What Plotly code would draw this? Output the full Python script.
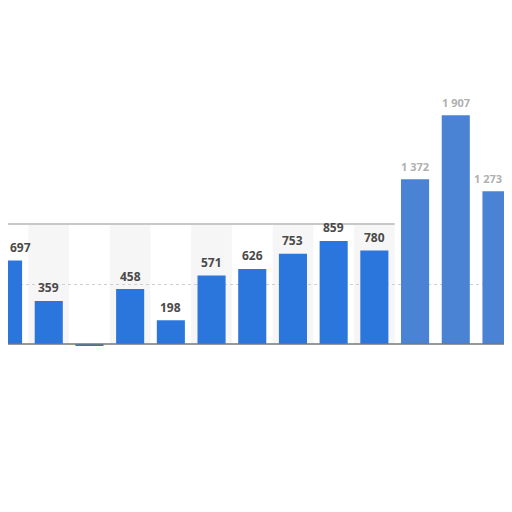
import plotly.graph_objects as go

# values (left to right)
bar_values = [697, 359, -15, 458, 198, 571, 626, 753, 859, 780, 1372, 1907, 1273]
bar_labels = ["697", "359", "", "458", "198", "571", "626", "753", "859", "780", "1 372", "1 907", "1 273"]
blurred = [False] * 10 + [True] * 3

positions = list(range(len(bar_values)))
bar_colors = ["#4a82d4" if b else "#2a76dc" for b in blurred]
label_colors = ["#b0b0b0" if b else "#4a4a4a" for b in blurred]

fig = go.Figure()

# alternating column bands behind the bars, up to the 1000 line
for i in positions:
    if i % 2 == 1 and i < 10:
        fig.add_shape(type="rect", xref="x", yref="y", x0=i - 0.5, x1=i + 0.5, y0=0, y1=1000,
                      fillcolor="#f6f6f6", line_width=0, layer="below")

fig.add_trace(go.Bar(
    x=positions, y=bar_values,
    marker=dict(color=bar_colors, line_width=0),
    hoverinfo="skip",
))

for i, v, t, c in zip(positions, bar_values, bar_labels, label_colors):
    if not t:
        continue
    # first/last labels sit at the page edges, keep them inside
    anchor = "center"
    shift = 0
    if i == positions[0]:
        anchor = "left"
    elif i == positions[-1]:
        anchor, shift = "right", 8
    fig.add_annotation(x=i, y=v, text=t, showarrow=False, yshift=13,
                       xanchor=anchor, xshift=shift,
                       font=dict(size=11 if blurred[i] else 12, color=c,
                                 family="Open Sans", weight="bold"))

# top border of the chart panel
fig.add_shape(type="line", xref="x", yref="y", x0=-0.7, x1=9.5, y0=1000, y1=1000,
              line=dict(color="#c8c8c8", width=2))
# baseline
fig.add_shape(type="line", xref="paper", yref="y", x0=0, x1=1, y0=0, y1=0,
              line=dict(color="#777777", width=1.5))

fig.update_layout(
    width=496, height=496,
    margin=dict(l=0, r=0, t=0, b=0),
    paper_bgcolor="white", plot_bgcolor="white",
    showlegend=False,
    bargap=0.31,
    xaxis=dict(range=[-0.001, 12.185], visible=False),
    yaxis=dict(range=[-1333, 2800], tickvals=[500], showticklabels=False,
               showgrid=True, gridcolor="#cfcfcf", griddash="dot", gridwidth=1,
               zeroline=False),
)

fig.write_html("out.html")
